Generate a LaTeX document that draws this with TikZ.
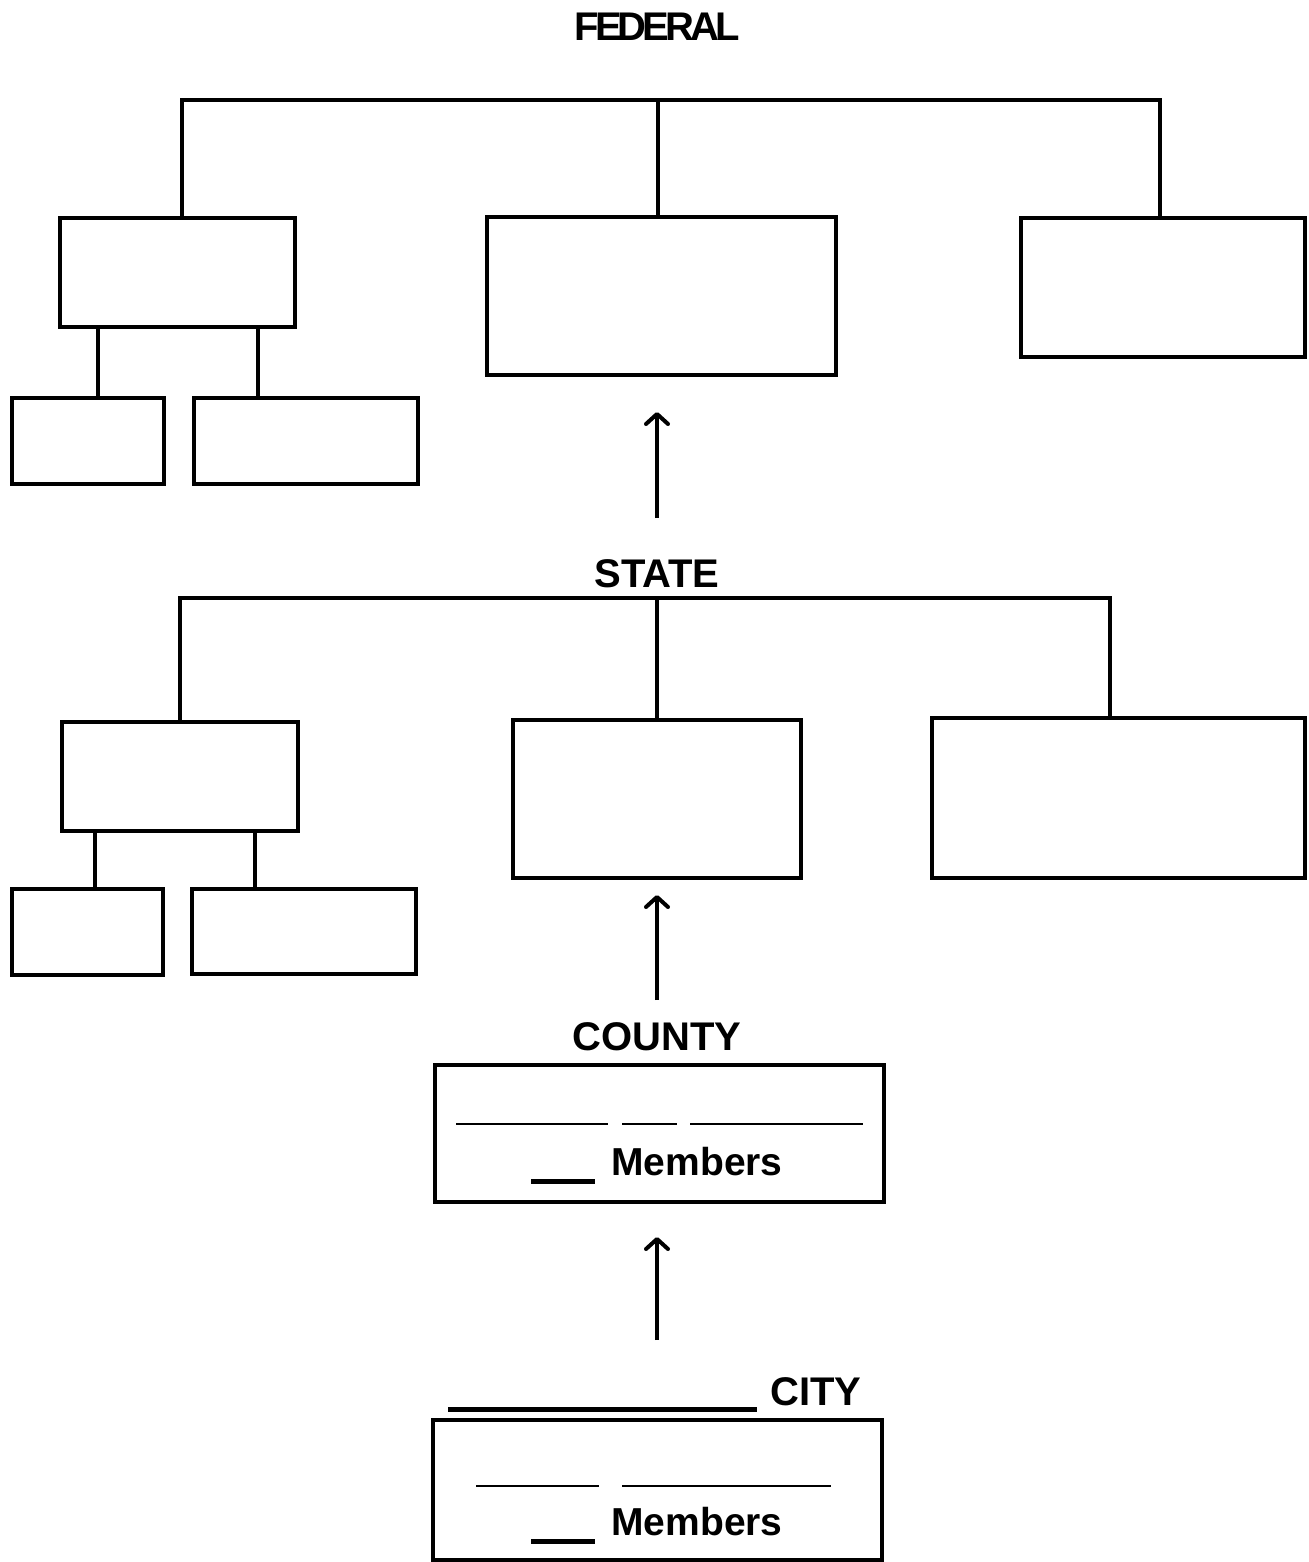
\documentclass[tikz,border=0pt]{standalone}
\usepackage{fontspec}
\setmainfont{Liberation Sans}
\newfontfamily\tightfont[LetterSpace=-10]{Liberation Sans}
\usetikzlibrary{arrows.meta}
\newcommand\blankrule[2]{\rule[#2]{#1}{2.5pt}}
\tikzset{
	box/.style={draw, line width=2pt, inner sep=0pt, outer sep=0pt},
	lbl/.style={font=\fontsize{20pt}{24pt}\selectfont\bfseries, inner sep=0pt, anchor=base},
	memb/.style={font=\fontsize{19.5pt}{23pt}\selectfont\bfseries, inner sep=0pt, anchor=base},
	tree/.style={line width=2pt},
	blank/.style={line width=1pt},
	uparr/.style={line width=2pt, -{Straight Barb[length=5pt,width=11pt,line width=2pt,round]}}
}
\begin{document}
\begin{tikzpicture}[x=0.5pt,y=-0.5pt]
	\useasboundingbox (0,0) rectangle (1309,1562);
	\node[lbl] (federal) at (657,41) {\tightfont\bfseries FEDERAL};
	\node[box, minimum width=117.5pt, minimum height=54.5pt] (f1) at (177.5,272.5) {};
	\node[box, minimum width=174.5pt, minimum height=79pt] (f2) at (661.5,296) {};
	\node[box, minimum width=142pt, minimum height=69.5pt] (f3) at (1163,287.5) {};
	\node[box, minimum width=76pt, minimum height=43pt] (f1a) at (88,441) {};
	\node[box, minimum width=112pt, minimum height=43pt] (f1b) at (306,441) {};
	\coordinate (fbar) at (658,100);
	\draw[tree] ([xshift=2pt]f1.north) |- (fbar) -| ([xshift=-1.5pt]f3.north);
	\draw[tree] ([xshift=-1.75pt]f2.north) -- ([xshift=-1.75pt]f2.north |- fbar);
	\draw[tree] ([xshift=-40pt]f1.south) -- ([xshift=-40pt]f1.south |- f1a.north);
	\draw[tree] ([xshift=40pt]f1.south) -- ([xshift=40pt]f1.south |- f1b.north);
	\coordinate (a1) at (657,518);
	\coordinate (a1e) at (657,412);
	\draw[uparr] (a1) -- (a1e);
	\node[lbl] (state) at (657,587) {STATE};
	\node[box, minimum width=118pt, minimum height=54.5pt] (s1) at (180,776.5) {};
	\node[box, minimum width=144pt, minimum height=79pt] (s2) at (657,799) {};
	\node[box, minimum width=186.5pt, minimum height=80pt] (s3) at (1118.5,798) {};
	\node[box, minimum width=75.5pt, minimum height=43pt] (s1a) at (87.5,932) {};
	\node[box, minimum width=112pt, minimum height=42.5pt] (s1b) at (304,931.5) {};
	\coordinate (sbar) at (657,598);
	\draw[tree] (s1.north) |- (sbar) -| ([xshift=-4.25pt]s3.north);
	\draw[tree] (s2.north) -- (s2.north |- sbar);
	\draw[tree] ([xshift=-42.5pt]s1.south) -- ([xshift=-42.5pt]s1.south |- s1a.north);
	\draw[tree] ([xshift=37.5pt]s1.south) -- ([xshift=37.5pt]s1.south |- s1b.north);
	\coordinate (a2) at (657,1000);
	\coordinate (a2e) at (657,895);
	\draw[uparr] (a2) -- (a2e);
	\node[lbl] (county) at (657,1050) {COUNTY};
	\node[box, minimum width=224.5pt, minimum height=68.5pt] (c) at (659.5,1133.5) {};
	\draw[blank] (456,1124) -- (608,1124);
	\draw[blank] (622,1124) -- (677,1124);
	\draw[blank] (690,1124) -- (863,1124);
	\node[memb] (cmemb) at (657,1175) {\blankrule{32pt}{-4.5pt}\hspace{8pt}Members};
	\coordinate (a3) at (657,1340);
	\coordinate (a3e) at (657,1237);
	\draw[uparr] (a3) -- (a3e);
	\node[lbl] (city) at (655,1405) {\blankrule{154.5pt}{-3.5pt}\hspace{6.5pt}CITY};
	\node[box, minimum width=224.5pt, minimum height=70pt] (ct) at (657.5,1490) {};
	\draw[blank] (476,1486) -- (599,1486);
	\draw[blank] (622,1486) -- (831,1486);
	\node[memb] (ctmemb) at (657,1535) {\blankrule{32pt}{-4.5pt}\hspace{8pt}Members};
\end{tikzpicture}
\end{document}
